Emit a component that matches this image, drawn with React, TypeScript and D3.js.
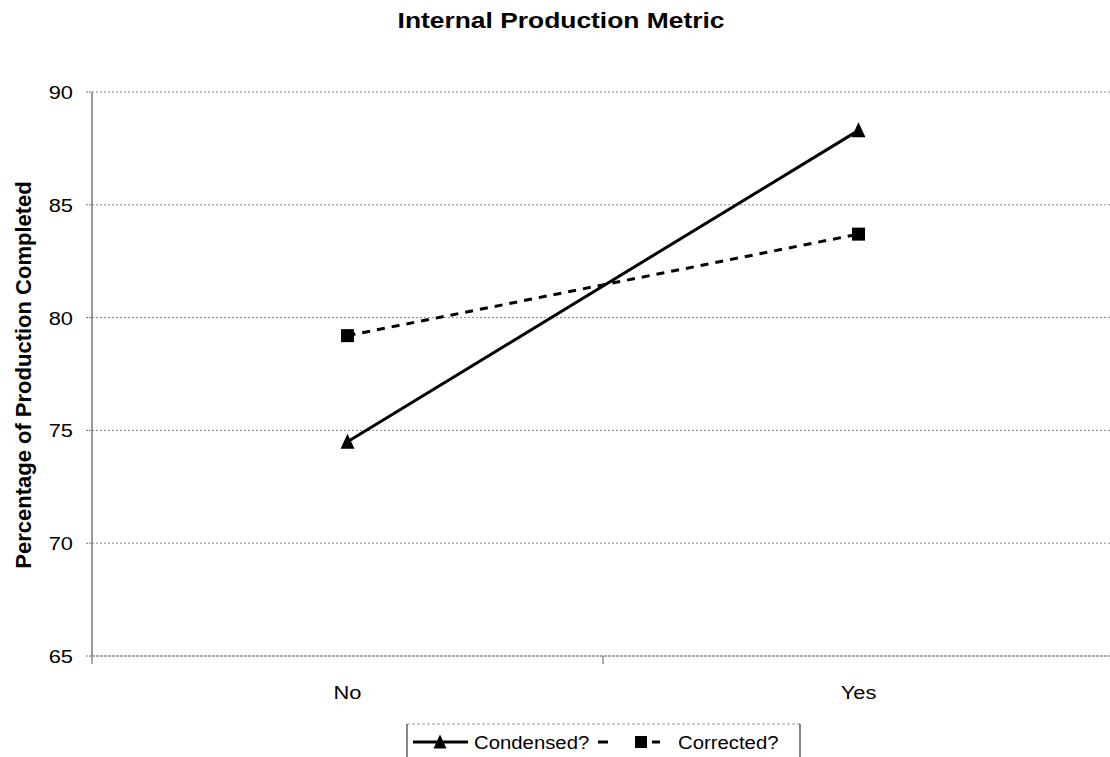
import React from "react";
import * as d3 from "d3";

const categories = ["No", "Yes"];
const condensedValues = [74.5, 88.3];
const correctedValues = [79.2, 83.7];
const yTicks = [65, 70, 75, 80, 85, 90];
const seriesNames = ["Condensed?", "Corrected?"];
const chartTitle = "Internal Production Metric";
const yAxisTitle = "Percentage of Production Completed";

const W = 1110;
const H = 757;
const FONT = "'Liberation Sans', Arial, Helvetica, sans-serif";
const SX = 1.15; // horizontal glyph stretch

const plot = { left: 92, right: 1114, top: 92, bottom: 656 };

function Txt(props: {
  x: number;
  y: number;
  size: number;
  anchor?: string;
  bold?: boolean;
  sx?: number;
  children: React.ReactNode;
}) {
  const { x, y, size, anchor = "start", bold = false, sx = SX, children } = props;
  return (
    <text
      transform={`translate(${x},${y}) scale(${sx},1)`}
      fontFamily={FONT}
      fontSize={size}
      fontWeight={bold ? "bold" : "normal"}
      textAnchor={anchor}
      fill="#000"
    >
      {children}
    </text>
  );
}

function Triangle({ cx, cy, s }: { cx: number; cy: number; s: number }) {
  const h = s;
  const p = `M${cx},${cy - h / 2 - 1} L${cx + s / 2},${cy + h / 2} L${cx - s / 2},${cy + h / 2} Z`;
  return <path d={p} fill="#000" />;
}

function Square({ cx, cy, s }: { cx: number; cy: number; s: number }) {
  return <rect x={cx - s / 2} y={cy - s / 2} width={s} height={s} fill="#000" />;
}

export default function App() {
  const x = d3.scaleBand<string>().domain(categories).range([plot.left, plot.right]).padding(0);
  const y = d3.scaleLinear().domain([65, 90]).range([plot.bottom, plot.top]);
  const cx = (c: string) => (x(c) as number) + x.bandwidth() / 2;

  const line = d3
    .line<number>()
    .x((_, i) => cx(categories[i]))
    .y((d) => y(d));

  const catBoundaries = [plot.left, ...categories.map((c) => (x(c) as number) + x.bandwidth())];

  return (
    <svg
      width={W}
      height={H}
      viewBox={`0 0 ${W} ${H}`}
      style={{ position: "absolute", left: 0, top: 0, background: "#fff", display: "block" }}
    >
      <rect x={0} y={0} width={W} height={H} fill="#fff" />

      {/* title */}
      <Txt x={561} y={28} size={22} anchor="middle" bold sx={1.2}>
        {chartTitle}
      </Txt>

      {/* gridlines */}
      {yTicks
        .filter((t) => t !== 65)
        .map((t) => (
          <line
            key={`g${t}`}
            x1={plot.left}
            x2={plot.right}
            y1={y(t)}
            y2={y(t)}
            stroke="#8a8a8a"
            strokeWidth={1}
            strokeDasharray="2,2"
          />
        ))}

      {/* y axis */}
      <line x1={plot.left} x2={plot.left} y1={plot.top} y2={plot.bottom} stroke="#555" strokeWidth={1.2} />
      {yTicks.map((t) => (
        <g key={`t${t}`}>
          <line x1={plot.left - 6} x2={plot.left} y1={y(t)} y2={y(t)} stroke="#777" strokeWidth={1} strokeDasharray="2,1" />
          <Txt x={73} y={y(t) + 7} size={19} anchor="end">
            {t}
          </Txt>
        </g>
      ))}

      {/* x axis */}
      <line x1={plot.left} x2={plot.right} y1={plot.bottom} y2={plot.bottom} stroke="#555" strokeWidth={1.2} strokeDasharray="3,1" />
      {catBoundaries.map((b, i) => (
        <line key={`xb${i}`} x1={b} x2={b} y1={plot.bottom} y2={plot.bottom + 8} stroke="#777" strokeWidth={1.2} />
      ))}
      {categories.map((c) => (
        <Txt key={c} x={cx(c)} y={699} size={19} anchor="middle">
          {c}
        </Txt>
      ))}

      {/* y axis title */}
      <text
        transform={`translate(31,375) rotate(-90)`}
        fontFamily={FONT}
        fontSize={22}
        fontWeight="bold"
        textAnchor="middle"
        fill="#000"
      >
        {yAxisTitle}
      </text>

      {/* series */}
      <path d={line(condensedValues) || ""} fill="none" stroke="#000" strokeWidth={3} />
      <path d={line(correctedValues) || ""} fill="none" stroke="#000" strokeWidth={3} strokeDasharray="8,7" />
      {condensedValues.map((v, i) => (
        <Triangle key={`tr${i}`} cx={cx(categories[i])} cy={y(v)} s={14} />
      ))}
      {correctedValues.map((v, i) => (
        <Square key={`sq${i}`} cx={cx(categories[i])} cy={y(v)} s={13} />
      ))}

      {/* legend */}
      <g>
        <line x1={407} x2={800} y1={724} y2={724} stroke="#999" strokeWidth={1} strokeDasharray="3,2" />
        <line x1={407} x2={407} y1={724} y2={H} stroke="#333" strokeWidth={1.2} />
        <line x1={800} x2={800} y1={724} y2={H} stroke="#333" strokeWidth={1.2} />
        <line x1={413} x2={468} y1={742} y2={742} stroke="#000" strokeWidth={3} />
        <Triangle cx={440} cy={742} s={13} />
        <Txt x={474} y={749} size={18} sx={1.13}>
          {seriesNames[0]}
        </Txt>
        <line x1={598} x2={608} y1={742} y2={742} stroke="#000" strokeWidth={3} />
        <line x1={652} x2={660} y1={742} y2={742} stroke="#000" strokeWidth={3} />
        <Square cx={641} cy={742} s={12} />
        <Txt x={678} y={749} size={18} sx={1.13}>
          {seriesNames[1]}
        </Txt>
      </g>
    </svg>
  );
}
